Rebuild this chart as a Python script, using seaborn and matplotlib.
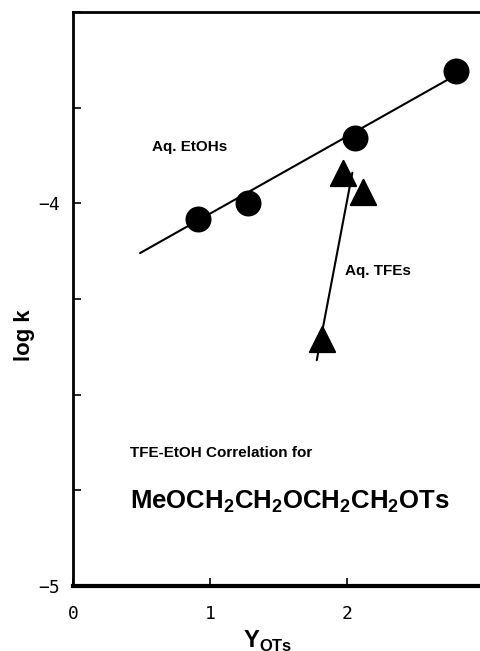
import numpy as np
import matplotlib
matplotlib.use("Agg")
import matplotlib.pyplot as plt
import seaborn as sns
import pandas as pd

# values
etoh_y = [0.91, 1.28, 2.06, 2.80]
etoh_logk = [-4.04, -4.00, -3.83, -3.655]
tfe_y = [1.97, 2.12, 1.82]
tfe_logk = [-3.92, -3.97, -4.355]

# drawn correlation lines (end points)
etoh_fit_x = [0.49, 2.82]
etoh_fit_y = [-4.13, -3.66]
tfe_fit_x = [1.78, 2.04]
tfe_fit_y = [-4.41, -3.92]

x_ticks = [0, 1, 2, 3]
x_ticklabels = ["0", "1", "2", "3"]
y_ticks = [-5, -4.75, -4.5, -4.25, -4, -3.75, -3.5]
y_ticklabels = ["\u22125", "", "", "", "\u22124", "", ""]

sns.set_style("white")
plt.rcParams['font.family'] = ['Liberation Sans', 'DejaVu Sans']
plt.rcParams['text.color'] = 'black'
plt.rcParams['axes.labelcolor'] = 'black'
plt.rcParams['mathtext.fontset'] = 'custom'
plt.rcParams['mathtext.rm'] = 'Liberation Sans:bold'
plt.rcParams['mathtext.bf'] = 'Liberation Sans:bold'

fig = plt.figure(figsize=(4.8, 6.51), dpi=100)
ax = fig.add_axes([0.152, 0.0998, 0.856, 0.8818])

sns.lineplot(x=etoh_fit_x, y=etoh_fit_y, ax=ax, color="black", lw=1.5)
sns.lineplot(x=tfe_fit_x, y=tfe_fit_y, ax=ax, color="black", lw=1.5)
sns.scatterplot(x=etoh_y, y=etoh_logk, ax=ax, color="black", marker="o", s=300, edgecolor="black")
sns.scatterplot(x=tfe_y, y=tfe_logk, ax=ax, color="black", marker="^", s=330, edgecolor="black")

ax.set_xlim(0, 3)
ax.set_ylim(-5, -3.5)
ax.set_xticks(x_ticks)
ax.set_xticklabels(x_ticklabels, family="DejaVu Sans Mono", fontsize=13)
ax.set_yticks(y_ticks)
ax.set_yticklabels(y_ticklabels, family="DejaVu Sans Mono", fontsize=13)
ax.tick_params(direction="in", length=6, width=1.2, colors="black",
               bottom=True, left=True)
ax.tick_params(axis="x", pad=14)
ax.tick_params(axis="y", pad=9)

ax.spines["bottom"].set_linewidth(3)
ax.spines["left"].set_linewidth(2)
ax.spines["top"].set_linewidth(2)
ax.spines["right"].set_visible(False)
for s in ["bottom", "left", "top"]:
    ax.spines[s].set_color("black")

ax.set_ylabel("log k", fontsize=16, fontweight="bold")
ax.yaxis.set_label_coords(-0.092, 0.437)
ax.set_xlabel(r"Y$_{\mathrm{OTs}}$", fontsize=17, fontweight="bold")
ax.xaxis.set_label_coords(0.475, -0.075)

ax.text(0.58, -3.853, "Aq. EtOHs", fontsize=11, fontweight="bold", va="center")
ax.text(1.985, -4.178, "Aq. TFEs", fontsize=11, fontweight="bold", va="center")
ax.text(0.415, -4.652, "TFE-EtOH Correlation for", fontsize=11, fontweight="bold", va="center")
ax.text(0.415, -4.78, r"MeOCH$_2$CH$_2$OCH$_2$CH$_2$OTs", fontsize=18.5,
        fontweight="bold", va="center")

fig.savefig("out.png", dpi=100)
